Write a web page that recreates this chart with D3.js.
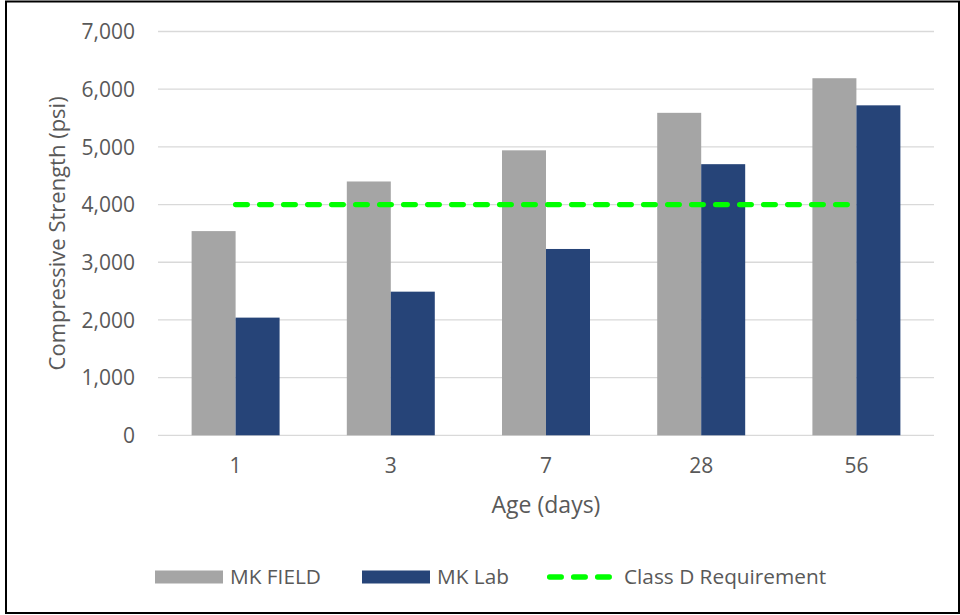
<!DOCTYPE html>
<html>
<head>
<meta charset="utf-8">
<script src="https://cdn.jsdelivr.net/npm/d3@7"></script>
<style>
  html, body { margin: 0; padding: 0; background: #fff; }
  svg { display: block; }
  text { font-family: "Open Sans", "DejaVu Sans", sans-serif; fill: #595959; }
</style>
</head>
<body>
<svg id="chart" width="960" height="615"></svg>
<script>
// Curing age categories (days)
const ages = ["1", "3", "7", "28", "56"];
// Compressive strength, psi
const mkField = [3540, 4400, 4940, 5590, 6190];
const mkLab = [2040, 2490, 3230, 4700, 5720];
// Class D minimum requirement, psi
const classD = [4000, 4000, 4000, 4000, 4000];
const yTicks = [0, 1000, 2000, 3000, 4000, 5000, 6000, 7000];
const seriesNames = ["MK FIELD", "MK Lab"];
const lineName = "Class D Requirement";

const colors = { "MK FIELD": "#A5A5A5", "MK Lab": "#264478", line: "#00FF00" };

const svg = d3.select("#chart");
const plot = { left: 158, right: 934, top: 31.5, bottom: 435.3 };

// outer frame
svg.append("rect")
  .attr("x", 6).attr("y", 1.5)
  .attr("width", 953).attr("height", 611.5)
  .attr("fill", "#fff").attr("stroke", "#000").attr("stroke-width", 2);

const y = d3.scaleLinear().domain([0, 7000]).range([plot.bottom, plot.top]);
const x0 = d3.scaleBand().domain(ages).range([plot.left, plot.right]).padding(0);
const x1 = d3.scaleBand().domain(seriesNames).range([0, x0.bandwidth()])
  .paddingInner(0).paddingOuter(0.764);

// gridlines
svg.append("g").selectAll("line").data(yTicks).join("line")
  .attr("x1", plot.left).attr("x2", plot.right)
  .attr("y1", d => y(d)).attr("y2", d => y(d))
  .attr("stroke", "#D9D9D9").attr("stroke-width", 1.3);

// y axis labels
const yAxis = d3.axisLeft(y).tickValues(yTicks).tickFormat(d3.format(",")).tickSize(0).tickPadding(0);
const gy = svg.append("g").attr("transform", `translate(135,0)`).call(yAxis);
gy.select(".domain").remove();
gy.selectAll("text")
  .style("font-family", '"Open Sans", sans-serif')
  .style("font-size", "21px").attr("fill", "#595959").attr("dy", "0.35em");

// bars
const rows = ages.map((a, i) => ({ age: a, values: [
  { key: "MK FIELD", value: mkField[i] },
  { key: "MK Lab", value: mkLab[i] }
]}));
const groups = svg.append("g").selectAll("g").data(rows).join("g")
  .attr("transform", d => `translate(${x0(d.age)},0)`);
groups.selectAll("rect").data(d => d.values).join("rect")
  .attr("x", d => x1(d.key))
  .attr("y", d => y(d.value))
  .attr("width", x1.bandwidth())
  .attr("height", d => y(0) - y(d.value))
  .attr("fill", d => colors[d.key]);

// requirement line
const line = d3.line()
  .x((d, i) => x0(ages[i]) + x0.bandwidth() / 2)
  .y(d => y(d));
svg.append("path").datum(classD)
  .attr("d", line)
  .attr("fill", "none")
  .attr("stroke", colors.line)
  .attr("stroke-width", 5.3)
  .attr("stroke-linecap", "round")
  .attr("stroke-dasharray", "11.7,12.3");

// x axis labels
const xAxis = d3.axisBottom(x0).tickSize(0).tickPadding(0);
const gx = svg.append("g").attr("transform", `translate(0,473)`).call(xAxis);
gx.select(".domain").remove();
gx.selectAll("text").attr("dy", 0)
  .style("font-family", '"Open Sans", sans-serif')
  .style("font-size", "21px").attr("fill", "#595959");

// axis titles
svg.append("text")
  .attr("x", (plot.left + plot.right) / 2).attr("y", 513)
  .attr("text-anchor", "middle").style("font-size", "23px")
  .text("Age (days)");
svg.append("text")
  .attr("transform", `translate(65,${(plot.top + plot.bottom) / 2}) rotate(-90)`)
  .attr("text-anchor", "middle").style("font-size", "22px")
  .text("Compressive Strength (psi)");

// legend
const legend = svg.append("g");
const legItems = [
  { name: seriesNames[0], type: "rect", color: colors["MK FIELD"], sx: 155, tx: 230 },
  { name: seriesNames[1], type: "rect", color: colors["MK Lab"], sx: 362, tx: 437 },
  { name: lineName, type: "line", color: colors.line, sx: 547, tx: 624 }
];
const ly = 577;
legItems.forEach(it => {
  if (it.type === "rect") {
    legend.append("rect").attr("x", it.sx).attr("y", ly - 6.5)
      .attr("width", 68).attr("height", 13).attr("fill", it.color);
  } else {
    legend.append("line").attr("x1", it.sx + 2.6).attr("x2", it.sx + 68)
      .attr("y1", ly).attr("y2", ly)
      .attr("stroke", it.color).attr("stroke-width", 5.3)
      .attr("stroke-linecap", "round").attr("stroke-dasharray", "11.7,12.3");
  }
  legend.append("text").attr("x", it.tx).attr("y", ly).attr("dy", "0.35em")
    .style("font-size", "20.8px").text(it.name);
});
</script>
</body>
</html>
